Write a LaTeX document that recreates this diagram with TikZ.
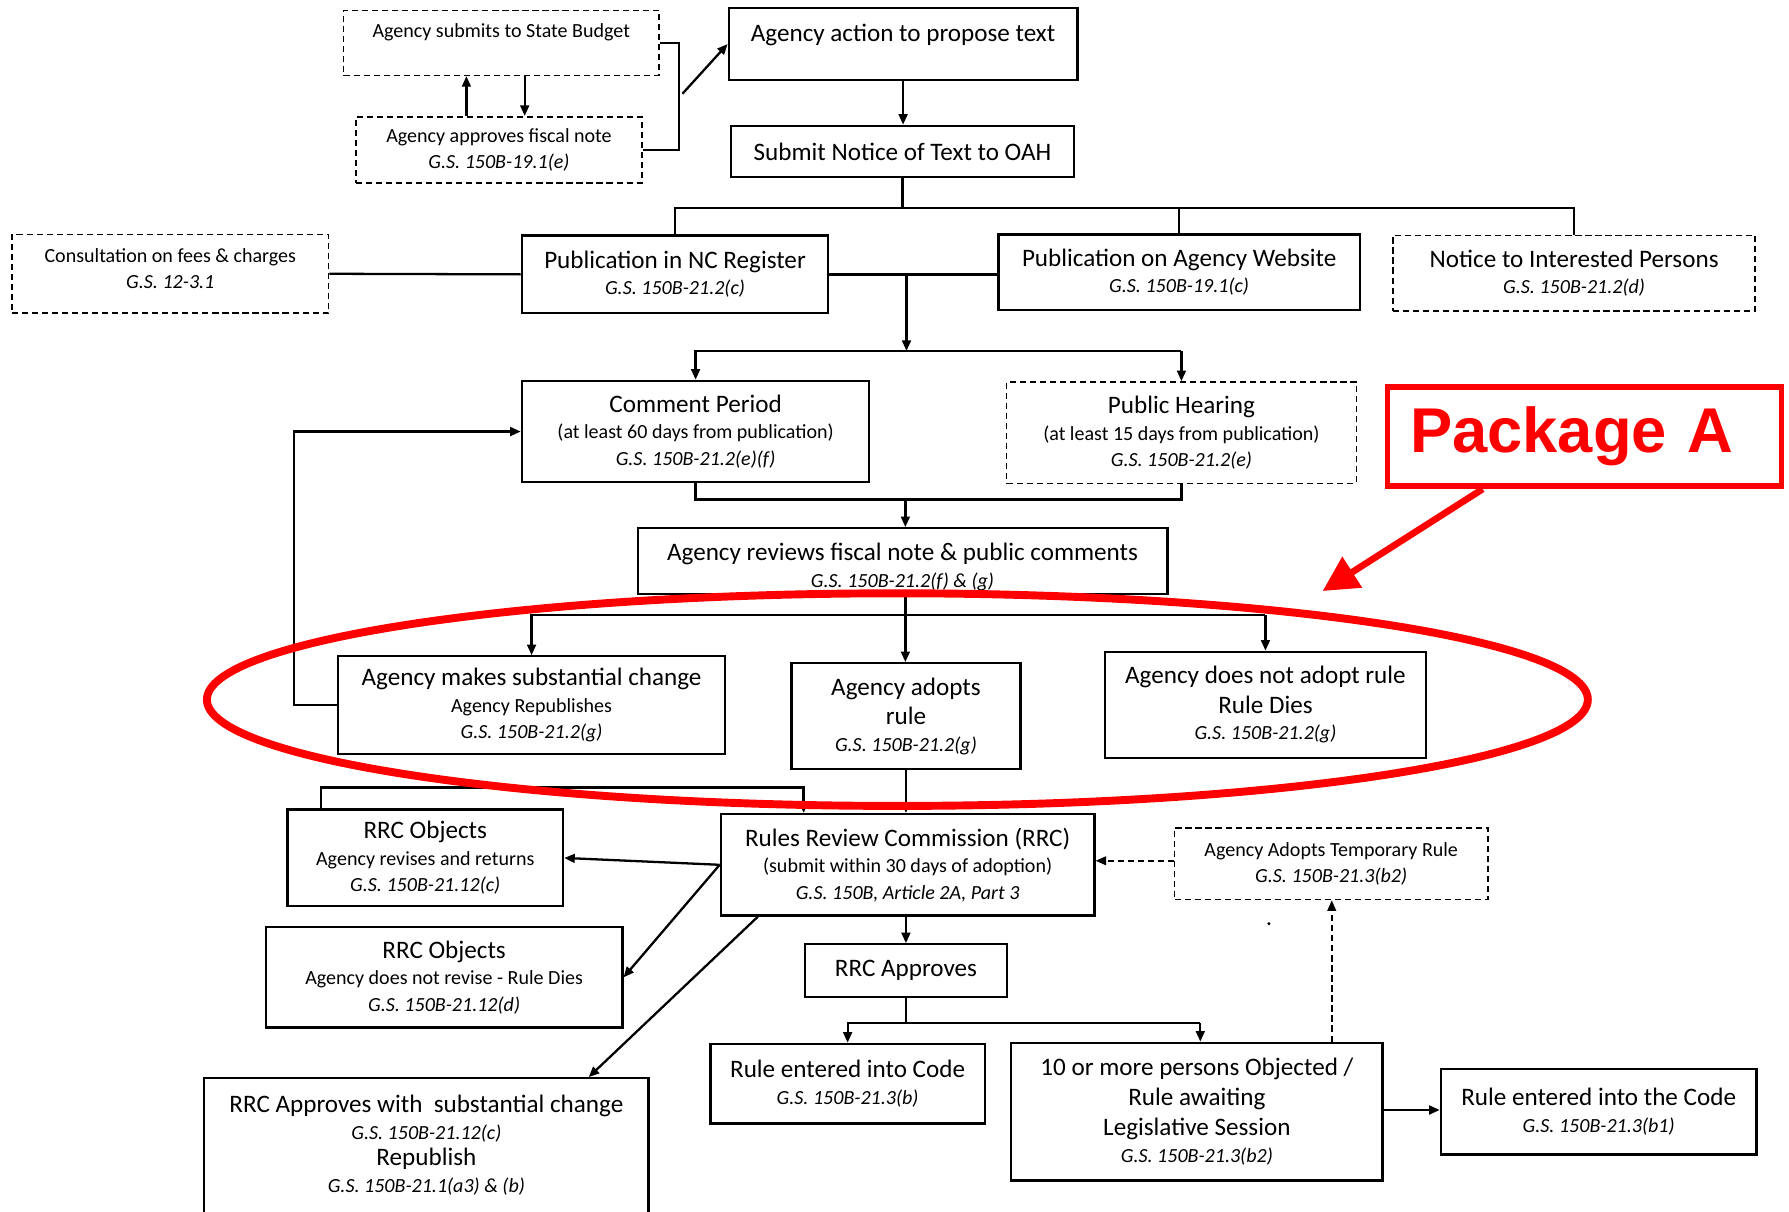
\documentclass[tikz,border=0pt]{standalone}
\usepackage{fontspec}
\setmainfont{Carlito}
\newfontfamily\pkgfont{Liberation Sans}
\usetikzlibrary{arrows.meta,calc}
\definecolor{MarkClr}{rgb}{1,0,0}
\newcommand\pxu{0.6481pt}
\newcommand\bigtxt{\fontsize{14.3}{17}\selectfont}
\newcommand\reftxt{\itshape}

\begin{document}
\begin{tikzpicture}[x=0.02286cm,y=-0.02286cm,
  sz/.style 2 args={minimum width=#1*\pxu,minimum height=#2*\pxu},
  box/.style={draw,line width=1.3pt,align=center,inner sep=0pt,font=\fontsize{11.4}{15}\selectfont},
  dbox/.style={box,line width=0.9pt,dash pattern=on 3.5pt off 2.2pt},
  ln/.style={line width=1.3pt},
  arr/.style={ln,-{Triangle[length=6pt,width=5pt]}},
  darr/.style={arr,line width=0.9pt,dash pattern=on 3.5pt off 2.2pt}]

\useasboundingbox (0,0) rectangle (1565,1059.4);

\node[dbox,sz={277}{57},text height=8pt,text depth=14.6pt] (SB) at (438.5,37.5) {Agency submits to State Budget};
\node[dbox,sz={251}{58}] (FN) at (436.5,131) {Agency approves fiscal note\\{\reftxt G.S. 150B-19.1(e)}};
\node[box,sz={306}{63},text height=10pt,text depth=12.4pt] (AP) at (790,38.5) {\bigtxt Agency action to propose text};
\node[box,sz={301}{45}] (NT) at (789.5,132.5) {\bigtxt Submit Notice of Text to OAH};

\node[dbox,sz={278}{69}] (CF) at (149,239.5) {Consultation on fees \& charges\\{\reftxt G.S. 12-3.1}\\[-9pt]\mbox{}};
\node[box,sz={269}{68}] (PR) at (590.5,240) {{\bigtxt Publication in NC Register}\\{\reftxt G.S. 150B-21.2(c)}};
\node[box,sz={317}{66}] (PW) at (1031.5,238) {{\bigtxt Publication on Agency Website}\\{\reftxt G.S. 150B-19.1(c)}};
\node[dbox,sz={318}{66}] (NI) at (1377,239) {{\bigtxt Notice to Interested Persons}\\{\reftxt G.S. 150B-21.2(d)}};

\node[box,sz={305}{89}] (CP) at (608.5,377.5) {{\bigtxt Comment Period}\\(at least 60 days from publication)\\{\reftxt G.S. 150B-21.2(e)(f)}};
\node[dbox,sz={307}{89}] (PH) at (1033.5,378.5) {{\bigtxt Public Hearing}\\(at least 15 days from publication)\\{\reftxt G.S. 150B-21.2(e)}};
\node[box,sz={465}{58}] (RV) at (789.5,491) {\mbox{}\\[1.5pt]{\bigtxt Agency reviews fiscal note \& public comments}\\{\reftxt G.S. 150B-21.2(f) \& (g)}};

\node[box,sz={340}{86}] (SC) at (465,617) {{\bigtxt Agency makes substantial change}\\Agency Republishes\\{\reftxt G.S. 150B-21.2(g)}};
\node[box,sz={201}{93}] (AR) at (792.5,626.5) {{\bigtxt Agency adopts}\\[2pt]{\bigtxt rule}\\{\reftxt G.S. 150B-21.2(g)}};
\node[box,sz={282}{93}] (NA) at (1107,616.5) {{\bigtxt Agency does not adopt rule}\\[2pt]{\bigtxt Rule Dies}\\{\reftxt G.S. 150B-21.2(g)}};

\node[box,sz={242}{85}] (O1) at (372,750.5) {{\bigtxt RRC Objects}\\Agency revises and returns\\{\reftxt G.S. 150B-21.12(c)}};
\node[box,sz={328}{89}] (RC) at (794,756.5) {{\bigtxt Rules Review Commission (RRC)}\\(submit within 30 days of adoption)\\{\reftxt G.S. 150B, Article 2A, Part 3}};
\node[dbox,sz={275}{63}] (TR) at (1164.5,755.5) {Agency Adopts Temporary Rule\\{\reftxt G.S. 150B-21.3(b2)}};
\node[box,sz={313}{88}] (O2) at (388.5,855) {{\bigtxt RRC Objects}\\Agency does not revise - Rule Dies\\{\reftxt G.S. 150B-21.12(d)}};
\node[box,sz={177}{46}] (RA) at (792.5,849) {\bigtxt RRC Approves};

\node[box,sz={390}{132}] (AS) at (373,1009) {{\bigtxt RRC Approves with\ \ substantial change}\\{\reftxt G.S. 150B-21.12(c)}\\{\bigtxt Republish}\\{\reftxt G.S. 150B-21.1(a3) \& (b)}\\[-4pt]\mbox{}};
\node[box,sz={241}{70}] (RE) at (741.5,948) {{\bigtxt Rule entered into Code}\\{\reftxt G.S. 150B-21.3(b)}};
\node[box,sz={326}{121}] (OB) at (1047,972.5) {{\bigtxt 10 or more persons Objected /}\\[2pt]{\bigtxt Rule awaiting}\\[2pt]{\bigtxt Legislative Session}\\{\reftxt G.S. 150B-21.3(b2)}};
\node[box,sz={277}{75}] (RT) at (1398.5,972.5) {{\bigtxt Rule entered into the Code}\\{\reftxt G.S. 150B-21.3(b1)}};

\node[draw=MarkClr,line width=3.2pt,sz={346}{87},inner sep=0pt,text width=306*\pxu,align=left,text=MarkClr,font=\pkgfont\bfseries\fontsize{36}{40}\selectfont] (PA) at (1386,382) {Package A};

\coordinate (FK) at (594,82);
\coordinate (PT) at (1157,517);

\draw[arr] (408,0 |- FN.north) -- (408,0 |- SB.south);
\draw[arr] (459,0 |- SB.south) -- (459,0 |- FN.north);
\draw[ln] (SB.east) -- (594,0 |- SB.east) |- (FN.east);
\draw[arr] (FK) ++(3,0) -- (AP.west);
\draw[arr] (AP.south) -- (AP.south |- NT.north);

\draw[ln] (NT.south) -- (NT.south |- 0,182);
\draw[ln] (PR.north) |- (NI.north |- 0,182) -- (NI.north);
\draw[ln] (PW.north) -- (PW.north |- 0,182);
\draw[ln] (CF.east) -- (PR.west);
\draw[ln] (PR.east) -- (PR.east -| PW.west);

\draw[arr] (793,0 |- PR.east) -- (793,307);
\draw[arr] (PH.north |- 0,307) -| (CP.north);
\draw[arr] (PH.north |- 0,307) -- (PH.north);
\draw[ln] (CP.south) |- (PH.south |- 0,437) -- (PH.south);
\draw[arr] (792,437) -- (792,0 |- RV.north);

\draw[ln] (792,0 |- RV.south) -- (792,538);
\draw[arr] (NA.north |- 0,538) -| (SC.north);
\draw[arr] (792,538) -- (792,0 |- AR.north);
\draw[arr] (NA.north |- 0,538) -- (NA.north);
\draw[arr] (SC.west) -| (257,0 |- CP.west) -- (CP.west);

\draw[arr] (AR.south) -- (AR.south |- RC.north);
\draw[arr] (281,0 |- O1.north) |- (703,689) -- (703,0 |- RC.north);
\draw[arr] (RC.west) -- (O1.east);
\draw[arr] (RC.west) -- (O2.east);
\draw[arr] (663,0 |- RC.south) -- (515,0 |- AS.north);
\draw[arr] (RC.south -| RA.north) -- (RA.north);
\draw[darr] (TR.west |- 0,753) -- (RC.east |- 0,753);

\draw[ln] (RA.south) -- (RA.south |- 0,895);
\draw[arr] (1050,895) -| (RE.north);
\draw[arr] (1050,895) -- (1050,0 |- OB.north);
\draw[darr] (1165,0 |- OB.north) -- (1165,0 |- TR.south);
\draw[arr] (OB.east |- 0,971) -- (RT.west |- 0,971);
\fill (1110,808) circle (1.5);

\draw[MarkClr,line width=4.5pt] (785,612) ellipse (604 and 93);
\draw[MarkClr,line width=3.8pt,-{Triangle[length=20pt,width=20pt]}] (1297,0 |- PA.south) -- (PT);

\end{tikzpicture}
\end{document}
